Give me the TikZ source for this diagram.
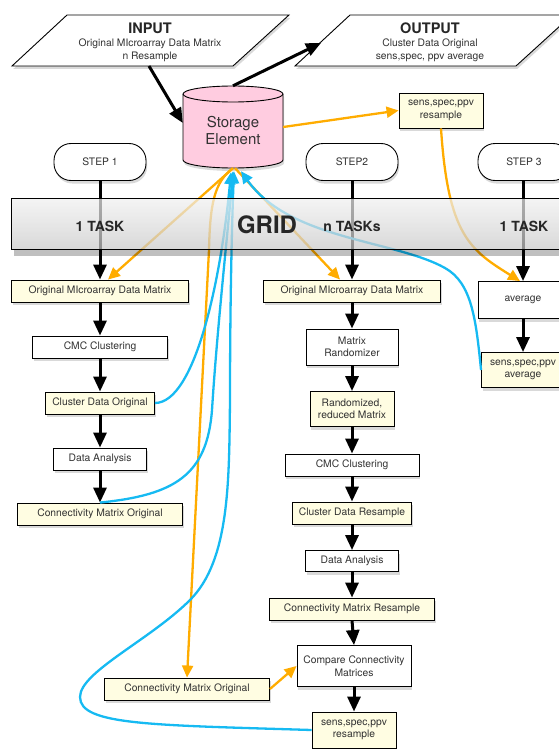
\documentclass[tikz,border=0pt]{standalone}
\usepackage{fontspec}
\setmainfont{TeX Gyre Heros}
\usetikzlibrary{arrows.meta,shadows,calc}
\definecolor{cream}{RGB}{255,253,226}
\definecolor{pinkst}{RGB}{255,204,224}
\definecolor{orng}{RGB}{255,172,0}
\definecolor{skyb}{RGB}{22,186,242}
\definecolor{txt}{RGB}{50,50,50}
\tikzset{
 sh/.style={drop shadow={shadow xshift=1.2pt, shadow yshift=-3pt, opacity=0.3}},
 wh/.style 2 args={minimum width=#1pt, minimum height=#2pt},
 boxbase/.style={rectangle, draw=black, line width=0.9pt, sh, inner sep=0pt, align=center, text=txt, font=\fontsize{10.3}{12.5}\selectfont},
 ybox/.style={boxbase, fill=cream},
 wbox/.style={boxbase, fill=white},
 stepbox/.style={rectangle, rounded corners=17pt, draw=black, line width=0.9pt, fill=white, sh, minimum width=92pt, minimum height=37pt, text=txt, font=\fontsize{10.3}{12}\selectfont},
 blk/.style={draw=black, line width=3pt, -{Triangle[length=15pt,width=13pt]}},
 orr/.style={draw=orng, line width=2.3pt, -{Triangle[length=12pt,width=11pt]}},
 blu/.style={draw=skyb, line width=2.3pt, -{Triangle[length=12pt,width=11pt]}},
 gridtxt/.style={font=\fontsize{14}{16}\selectfont\bfseries, text=black!85},
}
\begin{document}
\begin{tikzpicture}[x=1pt,y=-1pt]
\useasboundingbox (0,0) rectangle (558,749);

% INPUT / OUTPUT parallelograms
\path[draw=black, line width=0.9pt, fill=white, sh] (67,15) -- (289,15) -- (233,66) -- (12,66) -- cycle;
\node[align=center, text=txt, font=\fontsize{10.3}{13}\selectfont] (input) at (150,42)
  {{\fontsize{14.5}{15}\selectfont\bfseries\color{black!85}INPUT}\\Original MIcroarray Data Matrix\\n Resample};
\path[draw=black, line width=0.9pt, fill=white, sh] (350,15) -- (572,15) -- (516,66) -- (295,66) -- cycle;
\node[align=center, text=txt, font=\fontsize{10.3}{13}\selectfont] (output) at (430,42)
  {{\fontsize{14.5}{15}\selectfont\bfseries\color{black!85}OUTPUT}\\Cluster Data Original\\sens,spec, ppv average};
\coordinate (inb) at (149,66);
\coordinate (outl) at (321,43);

% storage cylinder
\path[fill=pinkst, draw=black, line width=0.9pt, sh] (183,94) -- (183,160)
  arc[start angle=180, end angle=360, x radius=50pt, y radius=8pt] -- (283,94)
  arc[start angle=0, end angle=180, x radius=50pt, y radius=8pt] -- cycle;
\draw[line width=0.9pt] (183,94) arc[start angle=180, end angle=360, x radius=50pt, y radius=8pt];
\node[minimum width=100pt, minimum height=82pt, inner sep=0pt] (store) at (233,127) {};
\node[align=center, text=txt, font=\fontsize{15}{17}\selectfont] (storetxt) at (233,131) {Storage\\Element};

% top-right result box
\node[ybox, wh={84}{35}] (T) at (441,110.5) {sens,spec,ppv\\resample};

% steps
\node[stepbox] (s1) at (100,162) {STEP 1};
\node[stepbox] (s2) at (352,162) {STEP2};
\node[stepbox] (s3) at (524,162) {STEP 3};

% left column
\node[ybox, wh={177}{22}] (L1) at (100,291) {Original MIcroarray Data Matrix};
\node[wbox, wh={135}{22}] (L2) at (100,347) {CMC Clustering};
\node[ybox, wh={109}{22}] (L3) at (100,403) {Cluster Data Original};
\node[wbox, wh={93}{22}] (L4) at (100,459) {Data Analysis};
\node[ybox, wh={165}{22}] (L5) at (100,514) {Connectivity Matrix Original};

% middle column
\node[ybox, wh={177}{22}] (M1) at (352,291) {Original MIcroarray Data Matrix};
\node[wbox, wh={92}{36}] (M2) at (352,347) {Matrix\\Randomizer};
\node[ybox, wh={84}{35}] (M3) at (352,409) {Randomized,\\reduced Matrix};
\node[wbox, wh={134}{22}] (M4) at (352,465) {CMC Clustering};
\node[ybox, wh={119}{22}] (M5) at (352,513) {Cluster Data Resample};
\node[wbox, wh={93}{21}] (M6) at (352,561) {Data Analysis};
\node[ybox, wh={165}{22}] (M7) at (352,609) {Connectivity Matrix Resample};
\node[wbox, wh={114}{41}] (M8) at (354,666) {Compare Connectivity\\Matrices};
\node[ybox, wh={84}{36}] (M9) at (354,730) {sens,spec,ppv\\resample};
\node[ybox, wh={165}{22}] (B) at (187,689) {Connectivity Matrix Original};

% right column
\node[wbox, wh={90}{37}] (R1) at (523,300) {average};
\node[ybox, wh={83}{35}] (R2) at (523,370) {sens,spec,ppv\\average};

% black arrows
\draw[blk] (inb) -- ($(store.west)+(0,-4)$);
\draw[blk] (store.north) -- (outl);
\draw[blk] (s1.south) -- (L1.north);
\draw[blk] (L1.south) -- (L2.north);
\draw[blk] (L2.south) -- (L3.north);
\draw[blk] (L3.south) -- (L4.north);
\draw[blk] (L4.south) -- (L5.north);
\draw[blk] (s2.south) -- (M1.north);
\draw[blk] (M1.south) -- (M2.north);
\draw[blk] (M2.south) -- (M3.north);
\draw[blk] (M3.south) -- (M4.north);
\draw[blk] (M4.south) -- (M5.north);
\draw[blk] (M5.south) -- (M6.north);
\draw[blk] (M6.south) -- (M7.north);
\draw[blk] (M7.south) -- (M8.north);
\draw[blk] (M8.south) -- (M9.north);
\draw[blk] ($(s3.south)+(-1,0)$) -- (R1.north);
\draw[blk] (R1.south) -- (R2.north);

% orange connectors
\coordinate (ob) at (209,250);
\draw[orr] (store.east) -- (T.west);
\draw[orr] (store.south) -- ($(L1.north)+(8,0)$);
\draw[orr] ($(store.south)+(2,0)$) -- ($(M1.north)+(-12,0)$);
\draw[orr] (store.south) .. controls (214,182) and (210,205) .. (ob) -- (B.north);
\draw[orr] (B.east) -- (M8.west);
\draw[orr] (T.south) .. controls (448,235) and (470,250) .. ($(R1.north)+(-3,0)$);

% blue connectors
\coordinate (b1) at (212,410);
\coordinate (c1) at (80,697);
\coordinate (c2) at (190,600);
\coordinate (c3) at (230,400);
\coordinate (d1) at (445,268);
\draw[blu] (L3.east) .. controls (195,403) and (221,280) .. ($(store.south)+(-2,4)$);
\draw[blu] (L5.north) .. controls (175,495) and (207,475) .. (b1)
  .. controls (217,330) and (228,230) .. ($(store.south)+(0,3)$);
\draw[blu] (M9.west) .. controls (150,725) and (80,725) .. (c1)
  .. controls (80,672) and (150,640) .. (c2)
  .. controls (230,560) and (229,480) .. (c3)
  .. controls (230,300) and (232,220) .. ($(store.south)+(1,3)$);
\draw[blu] (R2.west) .. controls (476,320) and (472,283) .. (d1)
  .. controls (395,240) and (290,240) .. ($(store.south)+(8,3)$);

% GRID band
\fill[black, opacity=0.25] (14,249) rectangle (572,256);
\shade[top color=gray!12, bottom color=gray!42, middle color=gray!26, fill opacity=0.72] (11,198) rectangle (572,249);
\draw[line width=0.9pt] (11,198) rectangle (572,249);
\node[gridtxt] (t1) at (100,226) {1 TASK};
\node[font=\fontsize{24}{26}\selectfont\bfseries, text=black!85] (grid) at (267,225) {GRID};
\node[gridtxt] (tn) at (352,226) {n TASKs};
\node[gridtxt] (t3) at (524,226) {1 TASK};
\end{tikzpicture}
\end{document}
